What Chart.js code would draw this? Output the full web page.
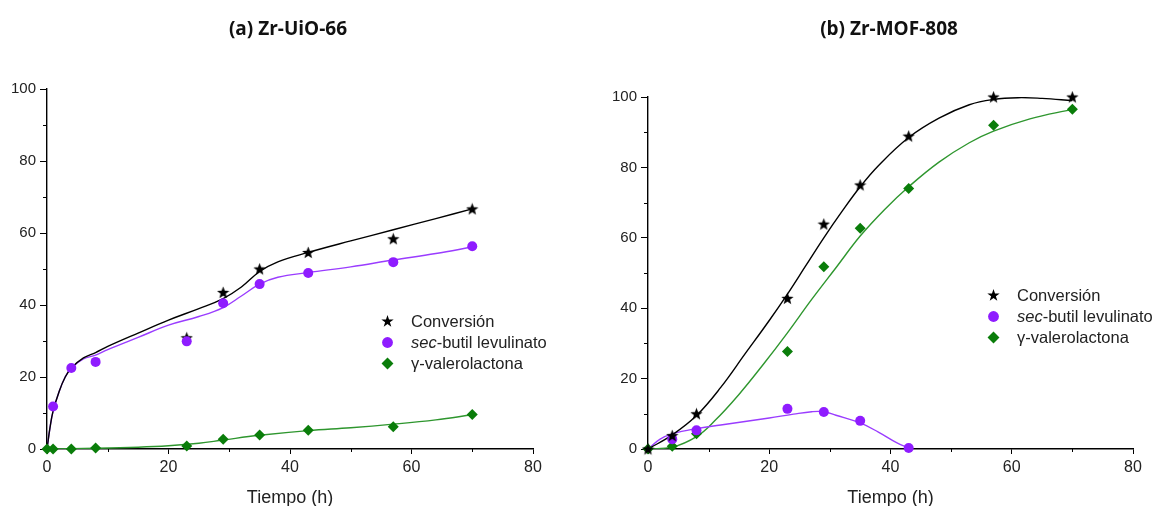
<!DOCTYPE html>
<html>
<head>
<meta charset="utf-8">
<script src="https://cdn.jsdelivr.net/npm/chart.js@4.4.0/dist/chart.umd.min.js"></script>
<style>
  body { margin: 0; background: #fff; width: 1158px; height: 506px; overflow: hidden; position: relative; font-family: "Liberation Sans", Arial, sans-serif; }
  canvas { position: absolute; top: 0; }
  .title { position: absolute; top: 15px; font-family: "Open Sans", sans-serif; font-weight: bold; font-size: 19px; color: #111; transform: translateX(-50%); white-space: nowrap; }
  .legend { position: absolute; font-size: 16.5px; color: #222; line-height: 21px; }
  .legend div { position: relative; padding-left: 30px; white-space: nowrap; }
  .legend svg { position: absolute; left: 0; top: 4px; }
</style>
</head>
<body>
<canvas id="chartA" width="579" height="506" style="left:0"></canvas>
<canvas id="chartB" width="579" height="506" style="left:579px"></canvas>
<div class="title" style="left:288px">(a) Zr-UiO-66</div>
<div class="title" style="left:889px">(b) Zr-MOF-808</div>

<div class="legend" style="left:381px; top:311px">
  <div><svg width="13" height="13" viewBox="0 0 12 12"><polygon points="6,0 7.4,4.1 11.7,4.1 8.2,6.7 9.5,10.9 6,8.3 2.5,10.9 3.8,6.7 0.3,4.1 4.6,4.1" fill="#000"/></svg>Conversión</div>
  <div><svg width="13" height="13" viewBox="0 0 12 12"><circle cx="6" cy="6" r="5" fill="#8f1cff"/></svg><i>sec</i>-butil levulinato</div>
  <div><svg width="13" height="13" viewBox="0 0 12 12"><polygon points="6,0.5 11.5,6 6,11.5 0.5,6" fill="#0a7d0a"/></svg>γ-valerolactona</div>
</div>
<div class="legend" style="left:987px; top:285px">
  <div><svg width="13" height="13" viewBox="0 0 12 12"><polygon points="6,0 7.4,4.1 11.7,4.1 8.2,6.7 9.5,10.9 6,8.3 2.5,10.9 3.8,6.7 0.3,4.1 4.6,4.1" fill="#000"/></svg>Conversión</div>
  <div><svg width="13" height="13" viewBox="0 0 12 12"><circle cx="6" cy="6" r="5" fill="#8f1cff"/></svg><i>sec</i>-butil levulinato</div>
  <div><svg width="13" height="13" viewBox="0 0 12 12"><polygon points="6,0.5 11.5,6 6,11.5 0.5,6" fill="#0a7d0a"/></svg>γ-valerolactona</div>
</div>

<script>
// axis ticks
const xMajor = [0, 20, 40, 60, 80];
const xMinor = [10, 30, 50, 70];
const yMajor = [0, 20, 40, 60, 80, 100];
const yMinor = [10, 30, 50, 70, 90];

// (a) Zr-UiO-66 measured points
const convTimeA = [23, 29, 35, 43, 57, 70];
const convA = [30.9, 43.5, 50, 54.6, 58.4, 66.7];
const sblTimeA = [1, 4, 8, 23, 29, 35, 43, 57, 70];
const sblA = [11.8, 22.5, 24.2, 29.9, 40.5, 45.8, 48.9, 51.9, 56.3];
const gvlTimeA = [0, 1, 4, 8, 23, 29, 35, 43, 57, 70];
const gvlA = [0, 0, 0, 0.3, 0.8, 2.7, 3.9, 5.2, 6.2, 9.6];

// (a) fitted curves
const convFitTimeA = [0, 0.5, 1, 2, 3, 4, 6, 8, 10, 15, 20, 25, 29, 32, 35, 38, 43, 50, 57, 64, 70];
const convFitA = [0, 6, 10.5, 16, 20, 22.5, 25.3, 26.8, 28.5, 32.2, 35.8, 39, 41.8, 45, 49.3, 52, 54.6, 57.8, 60.9, 64, 66.7];
const sblFitTimeA = [0, 0.5, 1, 2, 3, 4, 6, 8, 10, 15, 20, 25, 29, 32, 35, 38, 43, 50, 57, 64, 70];
const sblFitA = [0, 6, 10.5, 16, 20, 22.5, 25, 26.1, 27.6, 31, 34.4, 36.8, 39.3, 42.5, 45.8, 47.7, 49, 50.6, 52.5, 54.3, 56.1];
const gvlFitTimeA = [0, 8, 15, 20, 25, 29, 35, 43, 50, 57, 64, 70];
const gvlFitA = [0, 0.2, 0.5, 0.9, 1.6, 2.5, 3.8, 5.1, 5.9, 6.9, 8.1, 9.5];

// (b) Zr-MOF-808 measured points
const convTimeB = [0, 4, 8, 23, 29, 35, 43, 57, 70];
const convB = [0, 3.8, 10, 42.8, 63.9, 75, 88.9, 100, 100];
const sblTimeB = [4, 8, 23, 29, 35, 43];
const sblB = [2.8, 5.3, 11.4, 10.5, 8, 0.3];
const gvlTimeB = [0, 4, 8, 23, 29, 35, 43, 57, 70];
const gvlB = [0, 0.8, 4.3, 27.7, 51.8, 62.7, 74, 92, 96.5];

// (b) fitted curves
const convFitTimeB = [0, 4, 8, 12, 16, 20, 23, 26, 29, 32, 35, 38, 43, 48, 53, 57, 61, 65, 70];
const convFitB = [0, 4, 9.5, 17.5, 27, 36.5, 44, 52, 60, 67.5, 74.5, 80.5, 88.5, 94, 97.8, 99.3, 99.8, 99.6, 99];
const sblFitTimeB = [0, 2, 4, 8, 12, 16, 20, 24, 27, 29, 31, 35, 38, 41, 43];
const sblFitB = [0, 2.8, 4.3, 5.8, 6.8, 7.8, 8.8, 9.9, 10.6, 10.6, 9.6, 7.4, 4.8, 1.8, 0.3];
const gvlFitTimeB = [0, 4, 8, 11, 15, 19, 23, 27, 31, 35, 39, 43, 48, 53, 57, 63, 70];
const gvlFitB = [0, 0.5, 3.5, 8, 15.5, 24, 33, 42.5, 51.5, 60.5, 68, 74.5, 81.5, 87, 90.3, 93.8, 96.5];

const BLACK = '#000000';
const PURPLE = '#8f1cff';
const PURPLE_LINE = '#9a3cff';
const GREEN = '#0a7d0a';
const GREEN_LINE = '#2e962e';
const FONT = '"Liberation Sans", Arial, sans-serif';

function pairs(xs, ys) {
    return xs.map((x, i) => ({ x: x, y: ys[i] }));
}

// filled five-point star used as point marker
function starMarker(size, color) {
    const c = document.createElement('canvas');
    c.width = size;
    c.height = size;
    const ctx = c.getContext('2d');
    ctx.fillStyle = color;
    ctx.beginPath();
    for (let i = 0; i < 10; i++) {
        const r = i % 2 ? size * 0.21 : size / 2;
        const a = -Math.PI / 2 + i * Math.PI / 5;
        ctx.lineTo(size / 2 + r * Math.cos(a), size / 2 + 0.5 + r * Math.sin(a));
    }
    ctx.closePath();
    ctx.fill();
    return c;
}

const star = starMarker(13, BLACK);

const minorTicks = {
    id: 'minorTicks',
    afterDraw(chart) {
        const { ctx, scales: { x, y } } = chart;
        ctx.save();
        ctx.strokeStyle = '#000';
        ctx.lineWidth = 1;
        xMinor.forEach(v => {
            const px = Math.round(x.getPixelForValue(v)) + 0.5;
            ctx.beginPath();
            ctx.moveTo(px, x.top);
            ctx.lineTo(px, x.top + 3);
            ctx.stroke();
        });
        yMinor.forEach(v => {
            const py = Math.round(y.getPixelForValue(v)) + 0.5;
            ctx.beginPath();
            ctx.moveTo(y.right, py);
            ctx.lineTo(y.right - 4, py);
            ctx.stroke();
        });
        ctx.restore();
    }
};

function pointSet(label, data, style, color, radius) {
    return {
        label: label,
        data: data,
        showLine: false,
        pointStyle: style,
        pointRadius: radius,
        pointHoverRadius: radius,
        pointBackgroundColor: color,
        pointBorderColor: color,
        pointBorderWidth: 0,
        clip: false
    };
}

function fitSet(data, color) {
    return {
        data: data,
        showLine: true,
        borderColor: color,
        borderWidth: 1.4,
        pointRadius: 0,
        tension: 0.4,
        fill: false
    };
}

function buildChart(canvasId, points, fits, area) {
    return new Chart(document.getElementById(canvasId), {
        type: 'scatter',
        data: { datasets: points.concat(fits) },
        options: {
            responsive: false,
            animation: false,
            layout: { padding: { left: 0, top: area.top, right: area.right, bottom: 0 } },
            plugins: { legend: { display: false }, tooltip: { enabled: false } },
            scales: {
                x: {
                    type: 'linear',
                    min: 0,
                    max: 80,
                    afterFit: s => { s.height = 57; },
                    afterBuildTicks: s => { s.ticks = xMajor.map(v => ({ value: v })); },
                    border: { color: '#000', width: 1.4 },
                    grid: { drawOnChartArea: false, drawTicks: true, tickLength: 5, tickColor: '#000' },
                    ticks: { color: '#222', font: { family: FONT, size: 16 }, padding: 4, maxRotation: 0 },
                    title: { display: true, text: 'Tiempo (h)', color: '#222', font: { family: FONT, size: 18 }, padding: { top: 0, bottom: -3 } }
                },
                y: {
                    type: 'linear',
                    min: 0,
                    max: 100,
                    afterFit: s => { s.width = area.left; },
                    afterBuildTicks: s => { s.ticks = yMajor.map(v => ({ value: v })); },
                    border: { color: '#000', width: 1.4 },
                    grid: { drawOnChartArea: false, drawTicks: true, tickLength: 7, tickColor: '#000' },
                    ticks: { color: '#222', font: { family: FONT, size: 15 }, padding: 4 }
                }
            }
        },
        plugins: [minorTicks]
    });
}

buildChart('chartA', [
    pointSet('sec-butil levulinato', pairs(sblTimeA, sblA), 'circle', PURPLE, 5),
    pointSet('γ-valerolactona', pairs(gvlTimeA, gvlA), 'rectRot', GREEN, 5.5),
    pointSet('Conversión', pairs(convTimeA, convA), star, BLACK, 6)
], [
    fitSet(pairs(convFitTimeA, convFitA), BLACK),
    fitSet(pairs(sblFitTimeA, sblFitA), PURPLE_LINE),
    fitSet(pairs(gvlFitTimeA, gvlFitA), GREEN_LINE)
], { left: 47, top: 89, right: 46 });

buildChart('chartB', [
    pointSet('Conversión', pairs(convTimeB, convB), star, BLACK, 6),
    pointSet('sec-butil levulinato', pairs(sblTimeB, sblB), 'circle', PURPLE, 5),
    pointSet('γ-valerolactona', pairs(gvlTimeB, gvlB), 'rectRot', GREEN, 5.5)
], [
    fitSet(pairs(convFitTimeB, convFitB), BLACK),
    fitSet(pairs(sblFitTimeB, sblFitB), PURPLE_LINE),
    fitSet(pairs(gvlFitTimeB, gvlFitB), GREEN_LINE)
], { left: 69, top: 97, right: 25 });
</script>
</body>
</html>
